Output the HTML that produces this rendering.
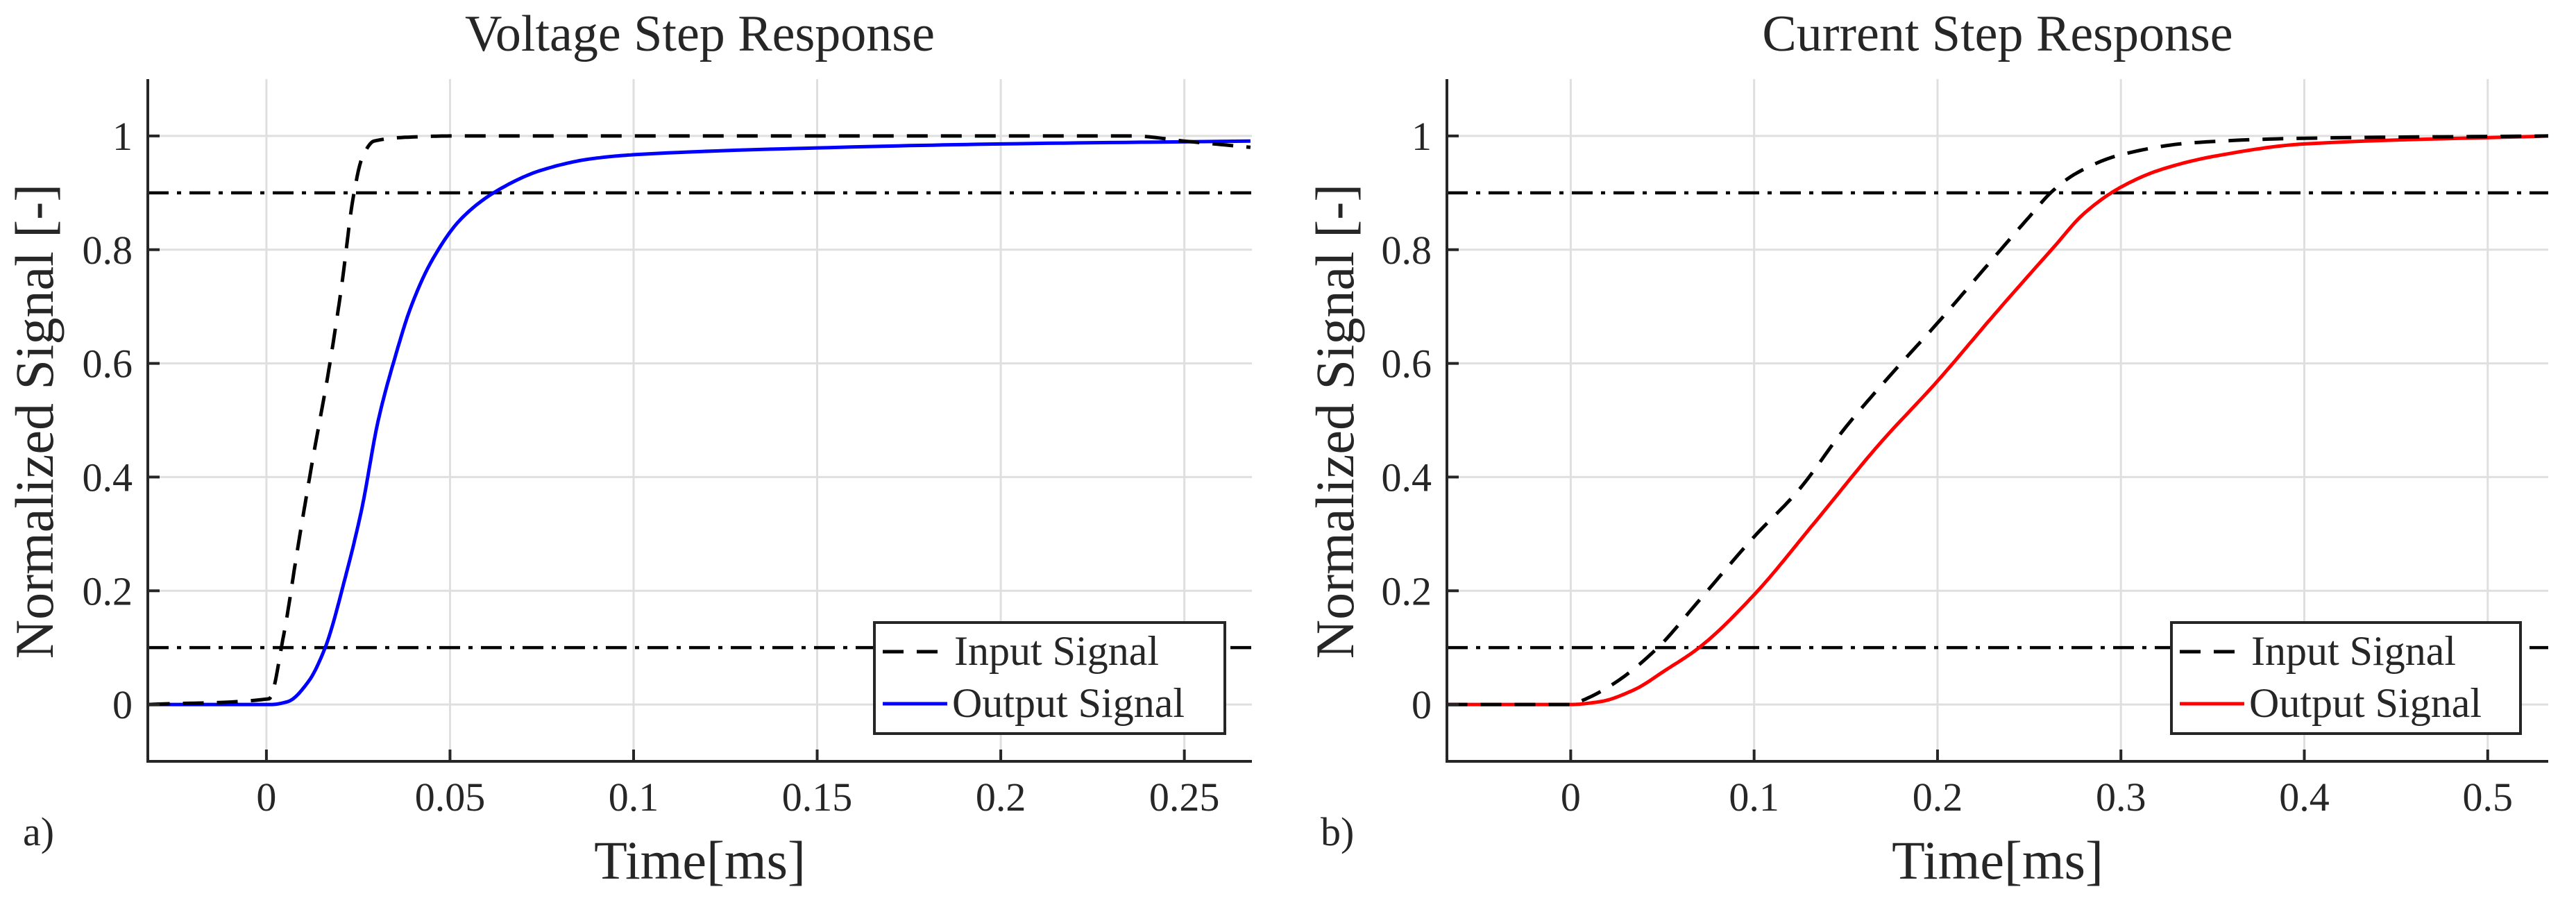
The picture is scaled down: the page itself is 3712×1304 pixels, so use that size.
<!DOCTYPE html>
<html><head><meta charset="utf-8"><style>
html,body{margin:0;padding:0;background:#fff;}
svg{display:block;}
text{font-family:"Liberation Serif",serif;fill:#262626;}
</style></head><body>
<svg id="fig" width="3712" height="1304" viewBox="0 0 3712 1304" xmlns="http://www.w3.org/2000/svg"></svg>
<script>
// ---- Data: left panel (voltage step) ----
const vInT  = [-0.032,0.0007,0.0047,0.0085,0.0125,0.017,0.0204,0.0237,0.026,0.0293,0.039,0.0506,0.1,0.15,0.2,0.236,0.25,0.268];
const vInY  = [0,0.01,0.122,0.274,0.427,0.589,0.732,0.894,0.96,0.991,0.998,1.0,1.0,1.0,1.0,1.0,0.991,0.98];
const vOutT = [-0.032,0.0013,0.0058,0.0114,0.016,0.0215,0.026,0.0304,0.035,0.0394,0.045,0.053,0.0629,0.075,0.0886,0.1,0.15,0.2,0.268];
const vOutY = [0,0,0.005,0.04,0.10,0.224,0.345,0.498,0.61,0.70,0.78,0.854,0.904,0.94,0.96,0.967,0.979,0.986,0.991];
const vXTicks = [0,0.05,0.1,0.15,0.2,0.25];
const vXLabels = ["0","0.05","0.1","0.15","0.2","0.25"];
// ---- Data: right panel (current step) ----
const cInT  = [-0.0677,0,0.007,0.025,0.0475,0.07,0.1,0.124,0.15,0.177,0.2,0.227,0.249,0.263,0.276,0.3,0.339,0.4,0.533];
const cInY  = [0,0,0.008,0.04,0.10,0.183,0.295,0.376,0.488,0.589,0.671,0.772,0.854,0.904,0.935,0.967,0.988,0.996,1.0];
const cOutT = [-0.0677,0,0.016,0.034,0.052,0.07,0.1,0.133,0.168,0.2,0.231,0.263,0.28,0.3,0.321,0.352,0.4,0.533];
const cOutY = [0,0,0.005,0.025,0.061,0.10,0.193,0.32,0.457,0.569,0.686,0.803,0.864,0.91,0.94,0.965,0.986,1.0];
const cXTicks = [0,0.1,0.2,0.3,0.4,0.5];
const cXLabels = ["0","0.1","0.2","0.3","0.4","0.5"];
const yTicks = [0,0.2,0.4,0.6,0.8,1];
const yLabels = ["0","0.2","0.4","0.6","0.8","1"];
const thresholds = [0.1,0.9];

const NS="http://www.w3.org/2000/svg";
const svg=document.getElementById('fig');
function mk(tag,attrs,parent){const e=document.createElementNS(NS,tag);for(const k in attrs)e.setAttribute(k,attrs[k]);(parent||svg).appendChild(e);return e;}
// monotone cubic (Fritsch-Carlson) sampling in data space
function monotone(xs,ys,n){
  const m=xs.length,d=[],s=[];
  for(let i=0;i<m-1;i++)d.push((ys[i+1]-ys[i])/(xs[i+1]-xs[i]));
  s[0]=d[0];s[m-1]=d[m-2];
  for(let i=1;i<m-1;i++){
    if(d[i-1]*d[i]<=0)s[i]=0;
    else{const h0=xs[i]-xs[i-1],h1=xs[i+1]-xs[i];const w1=2*h1+h0,w2=h1+2*h0;s[i]=(w1+w2)/(w1/d[i-1]+w2/d[i]);}
  }
  const out=[];
  for(let i=0;i<m-1;i++){
    const h=xs[i+1]-xs[i];
    for(let k=0;k<n;k++){
      const t=k/n,t2=t*t,t3=t2*t;
      const y=(2*t3-3*t2+1)*ys[i]+(t3-2*t2+t)*h*s[i]+(-2*t3+3*t2)*ys[i+1]+(t3-t2)*h*s[i+1];
      out.push([xs[i]+t*h,y]);
    }
  }
  out.push([xs[m-1],ys[m-1]]);
  return out;
}
function panel(o){
  const g=mk('g',{});
  
  
  const X=v=>o.x0+(v-o.xmin)/(o.xmax-o.xmin)*(o.x1-o.x0);
  const Y=v=>o.y1-(v-(-0.1))/1.2*(o.y1-o.y0);
  o.xt.forEach(v=>{const l=mk('line',{x1:X(v),x2:X(v),y1:o.y0,y2:o.y1,stroke:'#dfdfdf','stroke-width':3},g);
    });
  yTicks.forEach(v=>{const l=mk('line',{x1:o.x0,x2:o.x1,y1:Y(v),y2:Y(v),stroke:'#dfdfdf','stroke-width':3},g);
    });
  thresholds.forEach(v=>{const l=mk('line',{x1:o.x0,x2:o.x1,y1:Y(v),y2:Y(v),stroke:'#000','stroke-width':4.5,'stroke-dasharray':'30 12 6 12'},g);
    });
  const toPts=(ts,ys)=>monotone(ts,ys,16).map(p=>X(p[0]).toFixed(1)+','+Y(p[1]).toFixed(1)).join(' ');
  const po=mk('polyline',{points:toPts(o.outT,o.outY),fill:'none',stroke:o.color,'stroke-width':5,'stroke-linejoin':'round'},g);
  
  const pi=mk('polyline',{points:toPts(o.inT,o.inY),fill:'none',stroke:'#000','stroke-width':5,'stroke-dasharray':'30 19'},g);
  
  const ax=mk('path',{d:'M'+o.x0+','+o.y0+' V'+o.y1+' H'+o.x1,fill:'none',stroke:'#262626','stroke-width':4},g);
  
  o.xt.forEach((v,i)=>{
    mk('line',{x1:X(v),x2:X(v),y1:o.y1,y2:o.y1-17,stroke:'#262626','stroke-width':4},g);
    const t=mk('text',{x:X(v),y:1168,'font-size':58,'text-anchor':'middle'},g);t.textContent=o.xl[i];
    
  });
  yTicks.forEach((v,i)=>{
    mk('line',{x1:o.x0,x2:o.x0+17,y1:Y(v),y2:Y(v),stroke:'#262626','stroke-width':4},g);
    const t=mk('text',{x:o.x0-22,y:Y(v)+20,'font-size':58,'text-anchor':'end'},g);t.textContent=yLabels[i];
    
  });
  const cx=(o.x0+o.x1)/2;
  const ti=mk('text',{x:cx,y:73,'font-size':74,'text-anchor':'middle'},g);ti.textContent=o.title;
  
  const xl=mk('text',{x:cx,y:1266,'font-size':78,'text-anchor':'middle'},g);xl.textContent='Time[ms]';
  
  const yl=mk('text',{x:0,y:0,'font-size':78,'text-anchor':'middle',transform:'translate('+(o.ylx)+',607) rotate(-90)'},g);yl.textContent='Normalized Signal [-]';
  
  const pl=mk('text',{x:o.plx,y:1218,'font-size':58},g);pl.textContent=o.plabel;
  
  const lg=mk('g',{},g);
  
  mk('rect',{x:o.lx,y:897,width:o.lw,height:160,fill:'#fff',stroke:'#262626','stroke-width':4},lg);
  const e1=mk('line',{x1:o.lx+12,x2:o.lx+105,y1:939,y2:939,stroke:'#000','stroke-width':5,'stroke-dasharray':'30 19'},lg);
  
  const t1=mk('text',{x:o.lx+115,y:958,'font-size':60,fill:'#000'},lg);t1.textContent='Input Signal';
  
  const e2=mk('line',{x1:o.lx+12,x2:o.lx+105,y1:1014,y2:1014,stroke:o.color,'stroke-width':5},lg);
  
  const t2=mk('text',{x:o.lx+112,y:1033,'font-size':60,fill:'#000'},lg);t2.textContent='Output Signal';
  
}
panel({name:'voltage-step-panel',x0:213,x1:1804,y0:114,y1:1097,xmin:-0.0323,xmax:0.2684,
  inT:vInT,inY:vInY,outT:vOutT,outY:vOutY,color:'#0000ff',xt:vXTicks,xl:vXLabels,
  title:'Voltage Step Response',ylx:76,plx:33,plabel:'a)',lx:1260,lw:505});
panel({name:'current-step-panel',x0:2085,x1:3672,y0:114,y1:1097,xmin:-0.0675,xmax:0.533,
  inT:cInT,inY:cInY,outT:cOutT,outY:cOutY,color:'#ff0000',xt:cXTicks,xl:cXLabels,
  title:'Current Step Response',ylx:1950,plx:1903,plabel:'b)',lx:3129,lw:503});
</script>
</body></html>
